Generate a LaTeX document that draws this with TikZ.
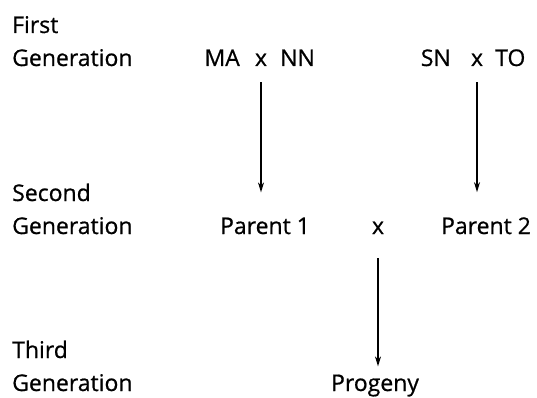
\documentclass[tikz,border=0pt]{standalone}
\usepackage{fontspec}
\setmainfont{Open Sans}[FakeBold=0.7]
\usetikzlibrary{arrows.meta}

\begin{document}
\begin{tikzpicture}[x=1pt,y=-1pt,
  lbl/.style={anchor=base west,inner sep=0pt,font=\fontsize{23}{27}\selectfont},
  txt/.style={anchor=base,inner sep=0pt,font=\fontsize{23}{27}\selectfont},
  arr/.style={-{Stealth[length=10pt,width=6pt]},line width=1.3pt}]
\useasboundingbox (0,0) rectangle (537,398);
% generation labels
\node[lbl] at (12,33) (gen1a) {First};
\node[lbl] at (12,66) (gen1b) {Generation};
\node[lbl] at (12,201) (gen2a) {Second};
\node[lbl] at (12,234) (gen2b) {Generation};
\node[lbl] at (12,358) (gen3a) {Third};
\node[lbl] at (12,391) (gen3b) {Generation};
% crosses
\node[txt,anchor=base east] at (240,66) (MA) {MA};
\node[txt] at (261,66) (cross1) {x};
\node[txt,anchor=base west] at (280,66) (NN) {NN};
\node[txt,anchor=base east] at (451,66) (SN) {SN};
\node[txt] at (477,66) (cross2) {x};
\node[txt,anchor=base west] at (495,66) (TO) {TO};
\node[txt] at (265,234) (par1) {Parent 1};
\node[txt] at (378,234) (cross3) {x};
\node[txt] at (486,234) (par2) {Parent 2};
\node[txt] at (375,391) (prog) {Progeny};
\draw[arr,shorten <=16pt,shorten >=25pt] (cross1.south) -- (cross1.south |- par1.north);
\draw[arr,shorten <=16pt,shorten >=25pt] (cross2.south) -- (cross2.south |- par2.north);
\draw[arr,shorten <=24pt,shorten >=8pt] (cross3.south) -- (cross3.south |- prog.north);
\end{tikzpicture}
\end{document}
